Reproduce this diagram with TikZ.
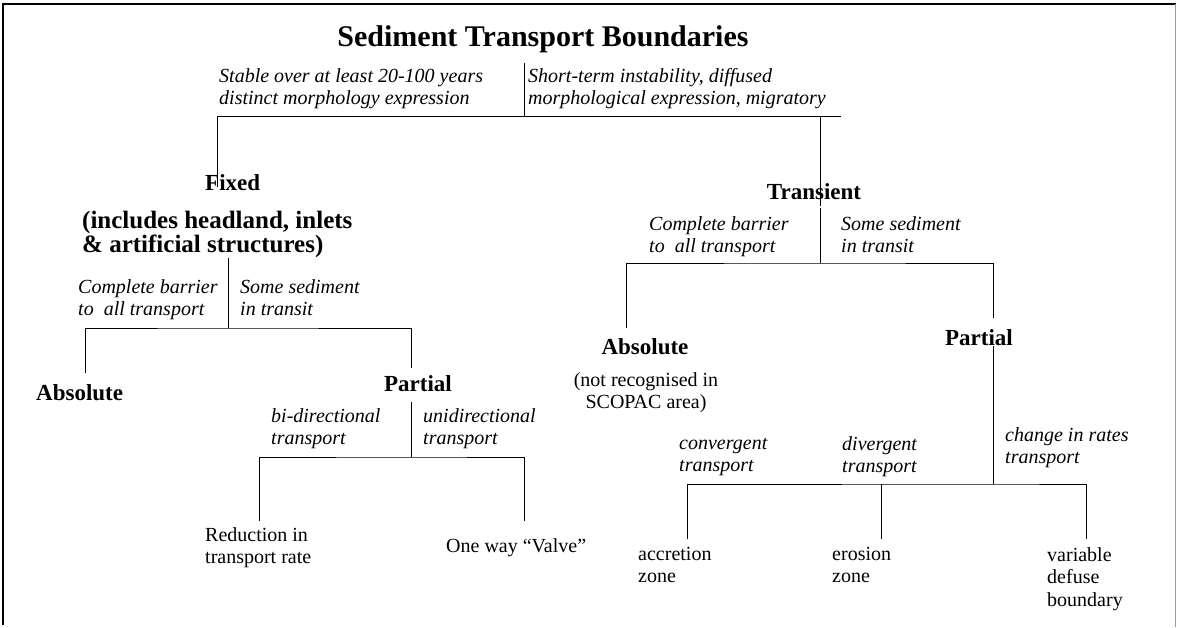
\documentclass[tikz,border=0pt]{standalone}
\usepackage{fontspec}
\setmainfont{Liberation Serif}
\begin{document}
\begin{tikzpicture}[
  x=1pt, y=-1pt,
  title/.style={font=\fontsize{30}{32}\selectfont\bfseries, inner sep=0},
  head/.style={font=\fontsize{23}{25}\selectfont\bfseries, inner sep=0, align=left},
  note/.style={font=\fontsize{25}{24}\selectfont\bfseries, inner sep=0, align=left, anchor=west},
  cond/.style={font=\fontsize{20}{22}\selectfont\itshape, inner sep=0, align=left, anchor=west,
    execute at begin node=\strut, execute at end node=\strut},
  leaf/.style={font=\fontsize{20}{22.5}\selectfont, inner sep=0, align=left, anchor=west,
    execute at begin node=\strut, execute at end node=\strut},
  link/.style={line width=1pt}
]
\useasboundingbox (0,0) rectangle (1177,627);
% frame, open at the bottom
\draw[line width=2.5pt] (3,625) -- (3,4) -- (1176,4);
\draw[line width=1pt, black!40] (1175,4) -- (1175,627);

\node[title] (title) at (543,39) {Sediment Transport Boundaries};
\node[cond] (stable) at (219,90) {Stable over at least 20-100 years\\distinct morphology expression};
\node[cond] (short) at (528,90) {Short-term instability, diffused\\morphological expression, migratory};

\node[head, anchor=west] (fixed) at (205,183) {Fixed};
\node[note] (fixNote) at (82,234) {(includes headland, inlets\\\& artificial structures)};
\node[head] (trans) at (814,192) {Transient};

% fixed branch
\node[cond] (fixBar) at (78,301) {Complete barrier\\to\ \ all transport};
\node[cond] (fixSome) at (240,301) {Some sediment\\in transit};
\node[head, anchor=west] (fixAbs) at (36,393) {Absolute};
\node[head] (fixPar) at (418,384) {Partial};
\node[cond] (biDir) at (271,430) {bi-directional\\transport};
\node[cond] (uniDir) at (423,430) {unidirectional\\transport};
\node[leaf] (reduce) at (205,549) {Reduction in\\transport rate};
\node[leaf] (valve) at (446,548) {One way ``Valve''};

% transient branch
\node[cond] (trBar) at (649,238) {Complete barrier\\to\ \ all transport};
\node[cond] (trSome) at (841,238) {Some sediment\\in transit};
\node[head] (trAbs) at (645,347) {Absolute};
\node[leaf, anchor=center, align=center] (trNote) at (646,394) {(not recognised in\\SCOPAC area)};
\node[head] (trPar) at (979,338) {Partial};
\node[cond] (conv) at (679,458) {convergent\\transport};
\node[cond] (div) at (842,458) {divergent\\transport};
\node[cond] (rates) at (1005,449) {change in rates\\transport};
\node[leaf] (accr) at (638,568) {accretion\\zone};
\node[leaf] (eros) at (832,568) {erosion\\zone};
\node[leaf] (vari) at (1047,580) {variable\\defuse\\boundary};

% junctions and free ends of the tree
\coordinate (rootJ) at (524,116);
\coordinate (rootL) at (217,187);
\coordinate (rootR) at (820,206);
\coordinate (rootE) at (841,116);
\coordinate (fixJ) at (228,328);
\coordinate (fixA) at (85,373);
\coordinate (fixP) at (411,368);
\coordinate (biJ) at (411,457);
\coordinate (biL) at (259,521);
\coordinate (biR) at (524,521);
\coordinate (trJ) at (820,263);
\coordinate (trA) at (626,328);
\coordinate (trP) at (993,318);
\coordinate (chJ) at (993,484);
\coordinate (chL) at (687,539);
\coordinate (chM) at (881,539);
\coordinate (chR) at (1086,539);

\draw[link, shorten <=10pt] (title.south -| rootJ) -- (rootJ);
\draw[link] (rootL) |- (rootE);
\draw[link] (rootR) -- (rootR |- rootJ);
\draw[link] (fixNote.south -| fixJ) -- (fixJ);
\draw[link] (fixA) |- (fixJ) -| (fixP);
\draw[link, shorten <=10pt] (fixPar.south -| biJ) -- (biJ);
\draw[link] (biL) |- (biJ) -| (biR);
\draw[link, shorten <=8pt] (trans.south -| trJ) -- (trJ);
\draw[link] (trA) |- (trJ) -| (trP);
\draw[link] (trPar.south -| chJ) -- (chJ);
\draw[link] (chL) |- (chJ) -| (chR);
\draw[link] (chM) -- (chM |- chJ);
\end{tikzpicture}
\end{document}
